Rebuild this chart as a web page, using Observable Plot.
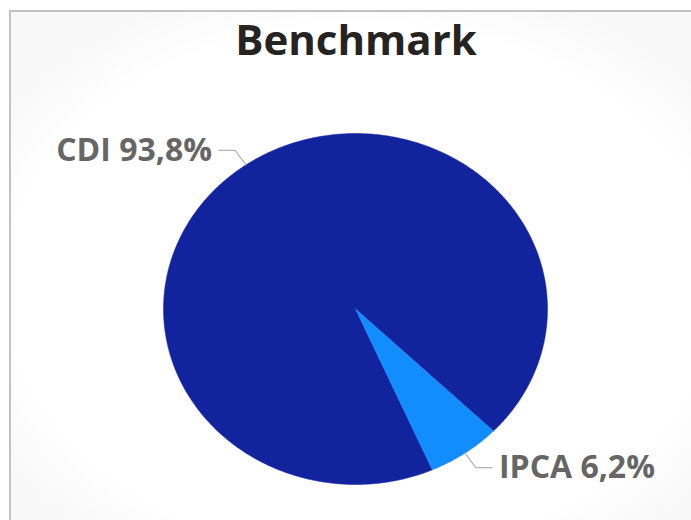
<!DOCTYPE html>
<html>
<head>
<meta charset="utf-8">
<script src="https://cdn.jsdelivr.net/npm/d3@7"></script>
<script src="https://cdn.jsdelivr.net/npm/@observablehq/plot@0.6"></script>
<style>
  html, body { margin: 0; padding: 0; background: #fff; }
  #wrap { position: relative; width: 691px; height: 520px; overflow: hidden; }
  #panel {
    position: absolute; left: 9px; top: 10px; width: 700px; height: 530px;
    border-left: 2px solid #c2c2c2; border-top: 2px solid #c2c2c2;
    background: radial-gradient(ellipse 62% 60% at 50% 52%, #ffffff 82%, #f8f8f8 100%);
  }
  #chart { position: absolute; left: 0; top: 0; }
</style>
</head>
<body>
<div id="wrap">
  <div id="panel"></div>
  <div id="chart"></div>
</div>
<script>
const title = "Benchmark";
const categories = ["CDI", "IPCA"];
const values = [93.8, 6.2];
const labels = ["CDI 93,8%", "IPCA 6,2%"];
const colors = ["#12239E", "#118DFF"];
const startDeg = 156.4;

const rows = categories.map((c, i) => ({category: c, value: values[i], label: labels[i]}));
const a0 = startDeg * Math.PI / 180;
const pie = d3.pie().sort(null).value(d => d.value).startAngle(a0).endAngle(a0 + 2 * Math.PI);
const arcs = pie(rows);

// polygon points of each slice in unit coordinates (clockwise from 12 o'clock)
const slicePts = [];
for (const a of arcs) {
  const n = Math.max(2, Math.ceil((a.endAngle - a.startAngle) / 0.01));
  slicePts.push({category: a.data.category, x: 0, y: 0});
  for (let k = 0; k <= n; k++) {
    const t = a.startAngle + (a.endAngle - a.startAngle) * k / n;
    slicePts.push({category: a.data.category, x: Math.sin(t), y: Math.cos(t)});
  }
  slicePts.push({category: a.data.category, x: 0, y: 0});
}

// leader lines and labels
const leaderPts = [];
const labelRows = [];
for (const a of arcs) {
  const m = (a.startAngle + a.endAngle) / 2;
  const ex = Math.sin(m), ey = Math.cos(m);
  const side = ex < 0 ? -1 : 1;
  const r = 1.1;
  leaderPts.push({category: a.data.category, x: ex, y: ey});
  leaderPts.push({category: a.data.category, x: ex * r, y: ey * r});
  leaderPts.push({category: a.data.category, x: ex * r + side * 0.085, y: ey * r});
  labelRows.push({label: a.data.label, x: ex * r + side * 0.12, y: ey * r, anchor: side < 0 ? "end" : "start"});
}

const chart = Plot.plot({
  width: 691,
  height: 520,
  margin: 0,
  style: {background: "transparent", overflow: "visible"},
  x: {domain: [-1, 1], range: [163, 547], axis: null},
  y: {domain: [-1, 1], range: [484, 133], axis: null},
  color: {domain: categories, range: colors},
  marks: [
    Plot.line(slicePts, {x: "x", y: "y", z: "category", fill: "category", stroke: "category", strokeWidth: 0.5, curve: "linear"}),
    Plot.line(leaderPts, {x: "x", y: "y", z: "category", stroke: "#b3b3b3", strokeWidth: 1.2}),
    Plot.text(labelRows.filter(d => d.anchor === "end"), {x: "x", y: "y", text: "label", textAnchor: "end", fill: "#666666", fontSize: 32, fontWeight: "bold", fontFamily: "Open Sans", lineAnchor: "middle"}),
    Plot.text(labelRows.filter(d => d.anchor === "start"), {x: "x", y: "y", text: "label", textAnchor: "start", fill: "#666666", fontSize: 32, fontWeight: "bold", fontFamily: "Open Sans", lineAnchor: "middle"}),
    Plot.text([title], {frameAnchor: "top", dx: 10, dy: 25, text: d => d, fill: "#252423", fontSize: 42, fontWeight: "bold", fontFamily: "Open Sans", lineAnchor: "top"})
  ]
});
document.getElementById("chart").appendChild(chart);
</script>
</body>
</html>
